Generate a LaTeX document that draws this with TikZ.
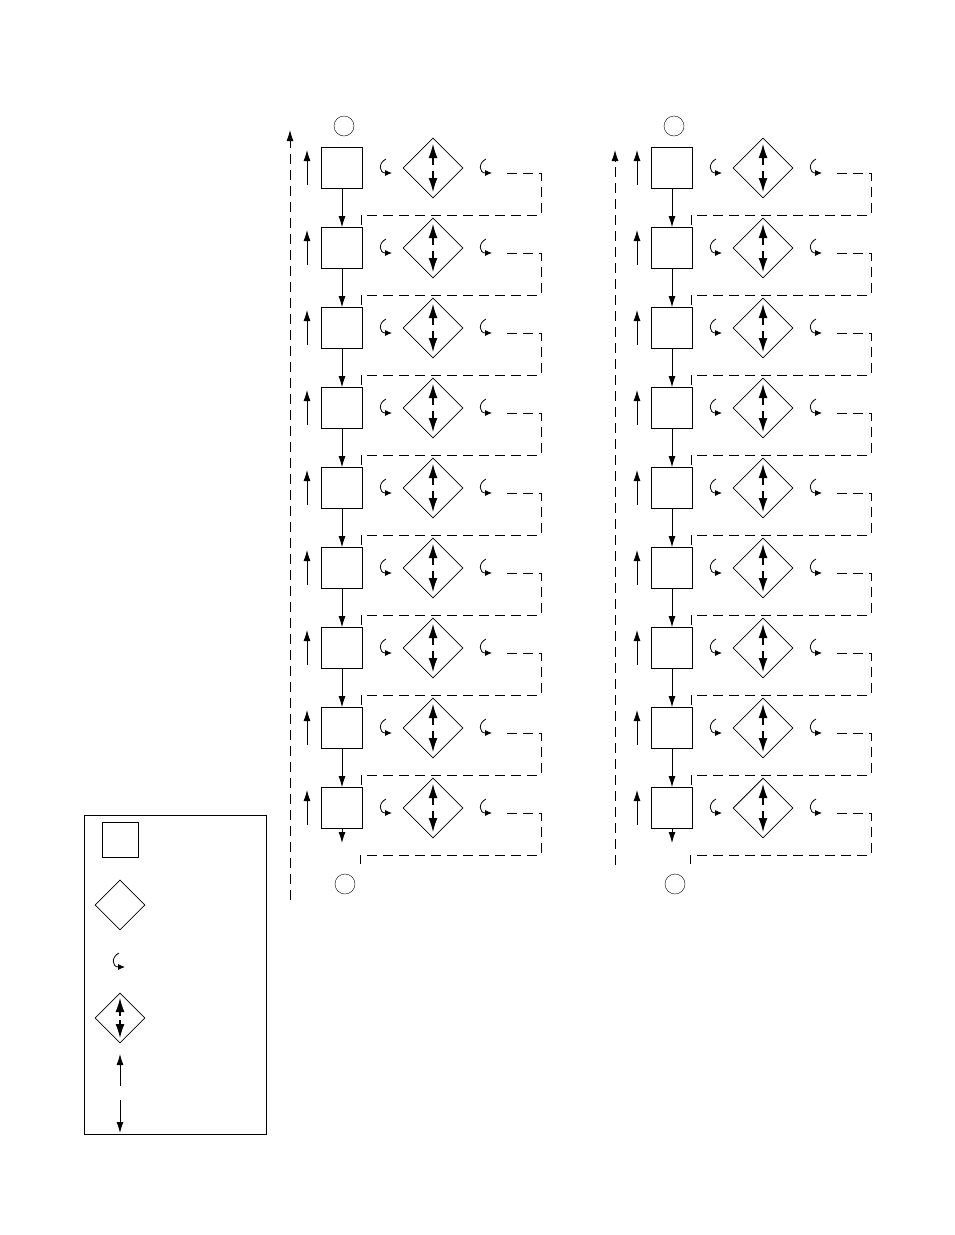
\documentclass[tikz,border=0pt]{standalone}
\usetikzlibrary{shapes.geometric, arrows, arrows.meta, positioning, calc}
\tikzstyle{stage} = [rectangle, minimum width=41pt, minimum height=41pt, draw=black, thick, inner sep=0pt]
\tikzstyle{gate} = [diamond, minimum width=60pt, minimum height=60pt, draw=black, thick, inner sep=0pt]
\tikzstyle{port} = [circle, minimum size=20pt, draw=black, inner sep=0pt]
\tikzstyle{arrow} = [thick,-{Latex[length=11pt,width=7pt]}]
\tikzstyle{bigarrow} = [line width=1.2pt,-{Latex[length=14pt,width=9pt]}]
\tikzstyle{link} = [thick, dash pattern=on 10pt off 6pt]
\newcommand{\curl}[1]{\draw[thick,-{Latex[length=7pt,width=6pt]}] ($(#1)+(3,-9)$) .. controls ($(#1)+(-5,-5)$) and ($(#1)+(-4,5)$) .. ($(#1)+(9,5)$);}
\newcommand{\updown}[1]{\draw[bigarrow] ($(#1.center)+(0,-3)$) -- ++(0,-21); \draw[bigarrow] ($(#1.center)+(0,3)$) -- ++(0,21);}
\begin{document}
\begin{tikzpicture}[x=1pt, y=-1pt]
    \useasboundingbox (0,0) rectangle (954,1235);
    \foreach \c/\dx/\fx/\fa/\fb in {L/0/290/900/130, R/330/615/865/150} {
        \foreach \i in {0,...,8} {
            \pgfmathsetmacro{\yy}{168+80*\i}
            \node (box\c\i) [stage] at (342+\dx,\yy) {};
            \node (gate\c\i) [gate] at (433+\dx,\yy) {};
            \coordinate (up\c\i) at (307+\dx,\yy);
            \draw [arrow] ($(up\c\i)+(0,17)$) -- ($(up\c\i)+(0,-18)$);
            \curl{$(gate\c\i)+(-50,0)$}
            \curl{$(gate\c\i)+(50,0)$}
            \updown{gate\c\i}
            \coordinate (tail\c\i) at (507+\dx,\yy+5);
            \coordinate (turn\c\i) at (541+\dx,\yy+47);
        }
        \foreach \i [count=\j] in {0,...,7} {
            \draw [arrow] (box\c\i) -- (box\c\j);
            \draw [link] (tail\c\i) -| (turn\c\i) -| ($(box\c\j.north east)+(-2,0)$);
        }
        \node (in\c) [port] at (344+\dx,126) {};
        \node (out\c) [port] at (345+\dx,884) {};
        \draw [arrow] (box\c8) -- ++(0,35);
        \draw [link] (tail\c8) -| (turn\c8) -| ($(box\c8.south east)+(-3,35)$);
        \draw [link,-{Latex[length=11pt,width=7pt]}] (\fx,\fa) -- (\fx,\fb);
    }
    % legend
    \node (legend) [rectangle, draw=black, thick, minimum width=182pt, minimum height=319pt] at (175,974.5) {};
    \node (keybox) [stage, minimum width=36pt, minimum height=35pt] at (120,840) {};
    \node (keygate) [gate, minimum width=50pt, minimum height=50pt] at (120,905) {};
    \curl{116,962}
    \node (keyflow) [gate, minimum width=50pt, minimum height=50pt] at (120,1018) {};
    \draw[bigarrow] ($(keyflow.center)+(0,-2)$) -- ++(0,-18);
    \draw[bigarrow] ($(keyflow.center)+(0,2)$) -- ++(0,18);
    \draw [arrow] (120,1086) -- (120,1054);
    \draw [arrow] (120,1100) -- (120,1133);
\end{tikzpicture}
\end{document}
